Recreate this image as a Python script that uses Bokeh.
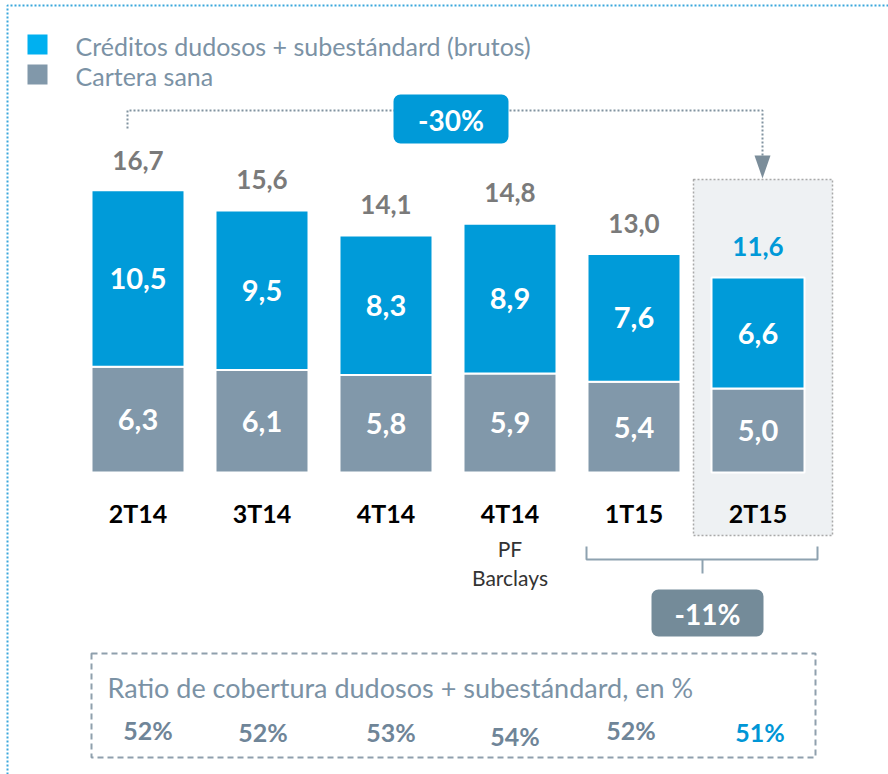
from bokeh.plotting import figure
from bokeh.models import Range1d, ColumnDataSource
from bokeh.core.properties import value
from bokeh.embed import file_html
from bokeh.resources import INLINE

# ---------------- data ----------------
categories = ["2T14", "3T14", "4T14", "4T14", "1T15", "2T15"]
sublabels = ["", "", "", "PF\nBarclays", "", ""]
dudosos = [10.5, 9.5, 8.3, 8.9, 7.6, 6.6]
sana = [6.3, 6.1, 5.8, 5.9, 5.4, 5.0]
totals = [16.7, 15.6, 14.1, 14.8, 13.0, 11.6]
ratios = [52, 52, 53, 54, 52, 51]
legend_labels = ["Créditos dudosos + subestándard (brutos)", "Cartera sana"]
change_total = "-30%"
change_last = "-11%"
ratio_title = "Ratio de cobertura dudosos + subestándard, en %"

# ---------------- layout helpers ----------------
W, H = 888, 774
PITCH = 124.0          # px per category
UNIT = 16.8            # px per value unit
BASE = 472.0           # page y of value 0
FIRST = 137.5          # page x of first bar centre
x0 = -FIRST / PITCH
y_top = BASE / UNIT
y_bot = -(H - BASE) / UNIT


def X(px):
    return x0 + px / PITCH


def Y(py):
    return (BASE - py) / UNIT


BLUE = "#009bd9"
BLUE_LEG = "#00b0f0"
GREY_BAR = "#8198aa"
GREY_TXT = "#7a7a7a"
SLATE = "#7b92a5"
FONT = value("Lato")

p = figure(width=W, height=H, output_backend="svg", toolbar_location=None,
           x_range=Range1d(x0, x0 + W / PITCH), y_range=Range1d(y_bot, y_top),
           min_border=0, outline_line_color=None)
p.axis.visible = False
p.grid.visible = False
p.background_fill_color = "white"
p.border_fill_color = "white"

# outer dotted frame (top and left)
p.line([X(7), X(7), X(888)], [Y(774), Y(5), Y(5)], line_color="#3aa7dc",
       line_width=2, line_dash="2 2")

# legend
leg_colors = [BLUE_LEG, GREY_BAR]
leg_tops = [34, 64]
for c, t, lab in zip(leg_colors, leg_tops, legend_labels):
    p.quad(left=X(27), right=X(47), top=Y(t), bottom=Y(t + 20), fill_color=c, line_color=None)
    p.text(x=[X(75)], y=[Y(t + 11)], text=[lab], text_font=FONT, text_font_size="25px",
           text_color=SLATE, text_align="left", text_baseline="middle")

# highlight box for last period
p.quad(left=X(693), right=X(832), top=Y(179), bottom=Y(535), fill_color="#eef1f3",
       line_color="#a9a9a9", line_width=1.5, line_dash="2 2")

# -30% connector
p.line([X(127), X(127), X(762), X(762)], [Y(128), Y(110), Y(110), Y(156)],
       line_color="#8193a0", line_width=2, line_dash="2 2")
p.patch([X(754), X(770), X(762)], [Y(155), Y(155), Y(178)], fill_color="#7b8d9a", line_color=None)
p.quad(left=X(393), right=X(508), top=Y(94), bottom=Y(143), fill_color="#009ad8",
       line_color=None, border_radius=7)
p.text(x=[X(450.5)], y=[Y(119)], text=[change_total], text_font=FONT, text_font_style="bold",
       text_font_size="28px", text_color="white", text_align="center", text_baseline="middle")

# bars
idx = list(range(len(categories)))
src = ColumnDataSource(dict(
    x=idx, sana=sana, dudosos=dudosos,
    y_s=[s / 2 for s in sana],
    y_d=[s + d / 2 for s, d in zip(sana, dudosos)],
    lab_s=[f"{v:.1f}".replace(".", ",") for v in sana],
    lab_d=[f"{v:.1f}".replace(".", ",") for v in dudosos],
    y_t=[t + 31 / UNIT for t in totals],
    lab_t=[f"{v:.1f}".replace(".", ",") for v in totals],
    col_t=[GREY_TXT] * (len(totals) - 1) + ["#0099d8"],
    cat=categories,
))
p.vbar_stack(["sana", "dudosos"], x="x", width=0.75, source=src,
             color=[GREY_BAR, BLUE], line_color="white", line_width=2)
p.text(x="x", y="y_s", text="lab_s", source=src, text_font=FONT, text_font_style="bold",
       text_font_size="29px", text_color="white", text_align="center", text_baseline="middle")
p.text(x="x", y="y_d", text="lab_d", source=src, text_font=FONT, text_font_style="bold",
       text_font_size="29px", text_color="white", text_align="center", text_baseline="middle")
p.text(x="x", y="y_t", text="lab_t", source=src, text_font=FONT, text_font_style="bold",
       text_font_size="26px", text_color="col_t", text_align="center", text_baseline="middle")

# category labels
p.text(x="x", y=Y(512), text="cat", source=src, text_font=FONT, text_font_style="bold",
       text_font_size="25px", text_color="black", text_align="center", text_baseline="middle")
for i, s in enumerate(sublabels):
    for j, line in enumerate(s.split("\n") if s else []):
        p.text(x=[i], y=[Y(548 + 29 * j)], text=[line], text_font=FONT, text_font_size="21px",
               text_color="#333333", text_align="center", text_baseline="middle")

# bracket and -11%
p.line([X(586), X(586), X(817), X(817)], [Y(546), Y(559), Y(559), Y(546)],
       line_color="#8ea2b0", line_width=2)
p.line([X(702), X(702)], [Y(559), Y(573)], line_color="#8ea2b0", line_width=2)
p.quad(left=X(651), right=X(763), top=Y(589), bottom=Y(636), fill_color="#748b99",
       line_color=None, border_radius=7)
p.text(x=[X(707)], y=[Y(613)], text=[change_last], text_font=FONT, text_font_style="bold",
       text_font_size="28px", text_color="white", text_align="center", text_baseline="middle")

# coverage ratio box
p.quad(left=X(91), right=X(815), top=Y(653), bottom=Y(757), fill_color=None,
       line_color="#8fa0ad", line_width=2, line_dash="6 4")
p.text(x=[X(107)], y=[Y(687)], text=[ratio_title], text_font=FONT, text_font_size="27px",
       text_color=SLATE, text_align="left", text_baseline="middle")
ratio_dx = [10, 1, 5, 5, -3, 2]
ratio_py = [729, 731, 731, 735, 729, 731]
ratio_col = ["#6f8598"] * (len(ratios) - 1) + ["#0096d6"]
for i, (r, dx, py, c) in enumerate(zip(ratios, ratio_dx, ratio_py, ratio_col)):
    p.text(x=[i + dx / PITCH], y=[Y(py)], text=[f"{r}%"], text_font=FONT, text_font_style="bold",
           text_font_size="25px", text_color=c, text_align="center", text_baseline="middle")

open("out.html", "w").write(file_html(p, INLINE))
